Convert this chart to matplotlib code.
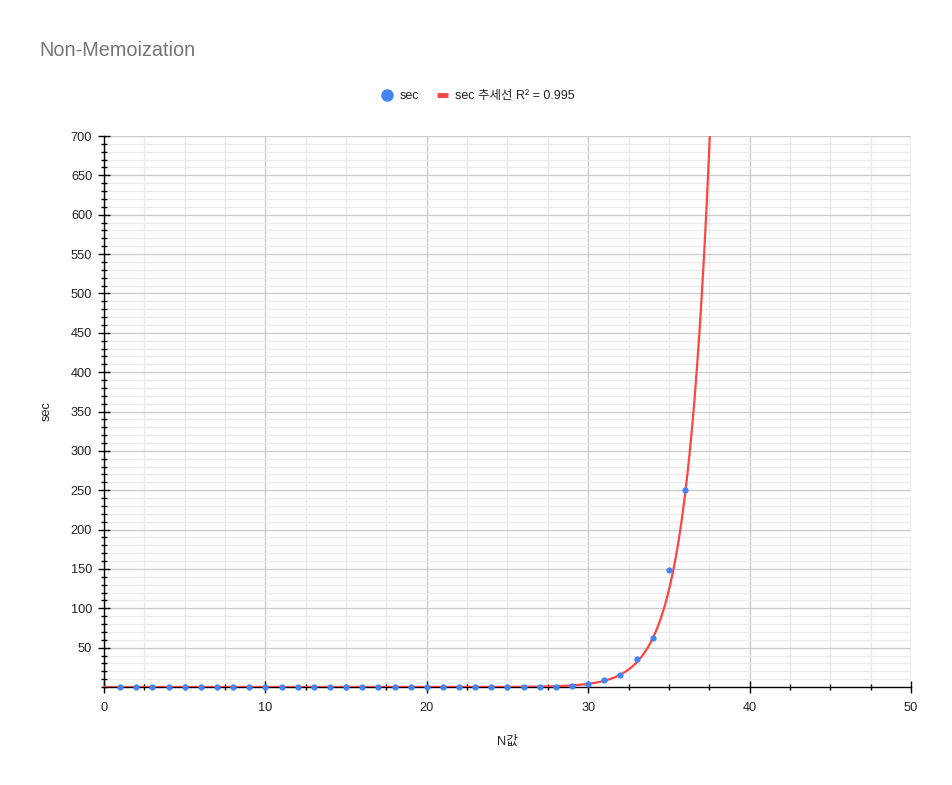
import numpy as np
import matplotlib.pyplot as plt
from matplotlib.lines import Line2D
from matplotlib.ticker import MultipleLocator, FixedLocator

plt.rcParams['font.family'] = ['Liberation Sans', 'Noto Sans CJK KR', 'DejaVu Sans']

# data
n_values = list(range(1, 37))
sec = [0.0, 0.0, 0.0, 0.0, 0.0, 0.0, 0.0, 0.0, 0.0, 0.0,
       0.0, 0.0, 0.0, 0.0, 0.0, 0.0, 0.0, 0.0, 0.0, 0.0,
       0.01, 0.02, 0.03, 0.05, 0.08, 0.13, 0.22, 0.45, 1.7, 3.5,
       8.5, 15, 36, 62, 149, 250]

# exponential trendline (sec = a * exp(b * n))
trend_a = 4.6e-9
trend_b = 0.686
r2_text = 'R² = 0.995'

fig = plt.figure(figsize=(9.52, 7.85), dpi=100)
ax = fig.add_axes([104 / 952, 98 / 785, 807 / 952, 551 / 785])

xs = np.linspace(0, 50, 2000)
ax.plot(xs, trend_a * np.exp(trend_b * xs), color='#ff4444', lw=1.6, zorder=3)
ax.plot(n_values, sec, 'o', color='#4285f4', ms=4.5, mec='none', zorder=4,
        clip_on=False)

ax.set_xlim(0, 50)
ax.set_ylim(0, 700)

ax.xaxis.set_major_locator(MultipleLocator(10))
ax.xaxis.set_minor_locator(MultipleLocator(2.5))
ax.yaxis.set_major_locator(FixedLocator(list(range(50, 701, 50))))
ax.yaxis.set_minor_locator(MultipleLocator(10))

ax.grid(which='major', color='#cccccc', lw=1.0, zorder=0)
ax.grid(which='minor', color='#ebebeb', lw=1.0, zorder=0)
ax.set_axisbelow(True)

for s in ['top', 'right']:
    ax.spines[s].set_visible(False)
for s in ['left', 'bottom']:
    ax.spines[s].set_color('black')
    ax.spines[s].set_linewidth(1.0)
    ax.spines[s].set_zorder(2)

ax.tick_params(which='major', direction='inout', length=9, width=1, color='black',
               labelsize=9.2, labelcolor='#222222')
ax.tick_params(which='minor', direction='inout', length=5, width=1, color='black')
ax.tick_params(axis='x', which='major', pad=6)
ax.tick_params(axis='y', which='major', pad=4)

ax.set_xlabel('N값', fontsize=9.2, color='#222222', labelpad=16)
ax.set_ylabel('sec', fontsize=9.2, color='#222222', labelpad=13)

fig.text(39 / 952, 1 - 50 / 785, 'Non-Memoization', fontsize=14.3, color='#757575',
         ha='left', va='center')

handles = [
    Line2D([], [], ls='none', marker='o', ms=9, color='#4285f4', mec='none'),
    Line2D([], [], color='#ff4444', lw=3.5, solid_capstyle='butt'),
]
labels = ['sec', 'sec 추세선 ' + r2_text]
leg = fig.legend(handles, labels, loc='center', ncol=2,
                 bbox_to_anchor=(478 / 952, 1 - 96 / 785), frameon=False,
                 fontsize=9, handlelength=0.9, handletextpad=0.6, columnspacing=1.4)
for t in leg.get_texts():
    t.set_color('#222222')

fig.savefig('out.png', dpi=100)
